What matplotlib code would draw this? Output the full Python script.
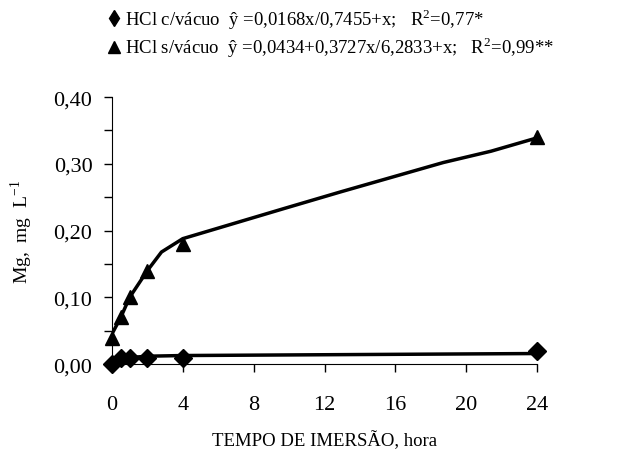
import matplotlib
matplotlib.use("Agg")
import matplotlib.pyplot as plt
from matplotlib.lines import Line2D
from matplotlib.ticker import MultipleLocator, FuncFormatter

plt.rcParams['font.family'] = ['Liberation Serif', 'DejaVu Serif']
plt.rcParams['mathtext.fontset'] = 'custom'
plt.rcParams['mathtext.rm'] = 'Liberation Serif'

# observed values
hours = [0, 0.5, 1, 2, 4, 24]
com_vacuo = [0.0, 0.01, 0.01, 0.01, 0.01, 0.02]
sem_vacuo = [0.04, 0.07, 0.10, 0.14, 0.18, 0.34]

# fitted curves
fit_x_com = [0, 0.5, 1, 2, 4, 24]
fit_y_com = [0.0, 0.008, 0.010, 0.012, 0.013, 0.016]
fit_x_sem = [0, 0.5, 1, 2, 2.8, 4, 9.7, 12.9, 18.7, 21.4, 24]
fit_y_sem = [0.045, 0.07, 0.10, 0.14, 0.168, 0.188, 0.233, 0.258, 0.302, 0.319, 0.339]

legend_labels = ['HCl c/vácuo  ŷ =0,0168x/0,7455+x;   R$^2$=0,77*',
                 'HCl s/vácuo  ŷ =0,0434+0,3727x/6,2833+x;   R$^2$=0,99**']

fig = plt.figure(figsize=(6.32, 4.52), dpi=100)
ax = fig.add_axes([0.177, 0.192, 0.673, 0.591])

ax.plot(fit_x_com, fit_y_com, color='black', lw=2.5, zorder=2)
ax.plot(fit_x_sem, fit_y_sem, color='black', lw=2.5, zorder=2)
ax.plot(hours, com_vacuo, 'D', color='black', ms=9, clip_on=False, zorder=3)
ax.plot(hours, sem_vacuo, '^', color='black', ms=10.5, clip_on=False, zorder=3)

ax.set_xlim(0, 24)
ax.set_ylim(0, 0.40)
ax.xaxis.set_major_locator(MultipleLocator(4))
ax.yaxis.set_major_locator(MultipleLocator(0.1))
ax.yaxis.set_minor_locator(MultipleLocator(0.05))
ax.yaxis.set_major_formatter(FuncFormatter(lambda v, p: f'{v:.2f}'.replace('.', ',')))
ax.tick_params(axis='both', which='both', direction='out', length=6, width=1, labelsize=16, pad=8)
ax.tick_params(axis='x', pad=16)

for s in ['top', 'right']:
    ax.spines[s].set_visible(False)

ax.set_xlabel('TEMPO DE IMERSÃO, hora', fontsize=13.5, labelpad=12)
ax.set_ylabel('Mg,  mg  L$^{-1}$', fontsize=14, labelpad=13)

handles = [Line2D([], [], marker='d', color='black', ls='none', ms=8),
           Line2D([], [], marker='^', color='black', ls='none', ms=8)]
fig.legend(handles, legend_labels, loc='upper left', bbox_to_anchor=(0.157, 1.005),
           frameon=False, fontsize=13.5, handlelength=0.6, handletextpad=0.3,
           labelspacing=0.18, borderpad=0)

fig.savefig('out.png', dpi=100)
